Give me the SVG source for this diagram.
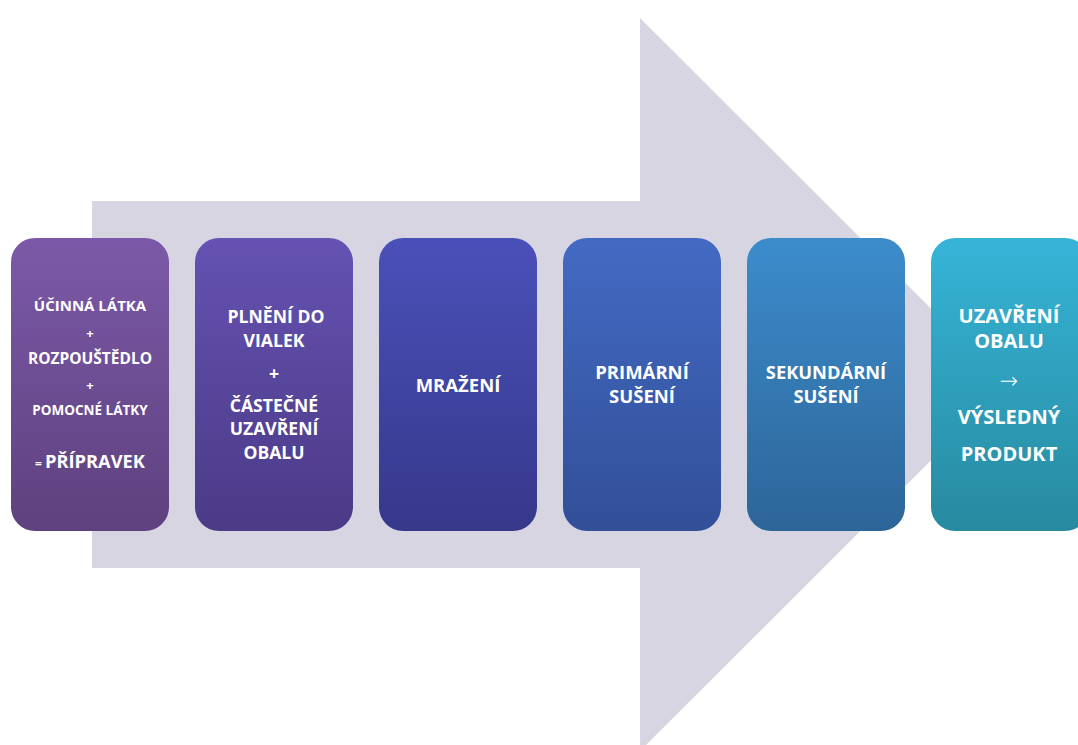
<svg xmlns="http://www.w3.org/2000/svg" width="1078" height="745" viewBox="0 0 1078 745">
<style>
.t{font-family:"Open Sans","Liberation Sans",sans-serif;font-weight:bold;fill:#ffffff;text-anchor:middle}
.thin{font-family:"DejaVu Sans","Liberation Sans",sans-serif;font-weight:200;fill:#ffffff;text-anchor:middle}
</style>
<defs>
<linearGradient id="g1" x1="0" y1="0" x2="0" y2="1"><stop offset="0" stop-color="#7c59a8"/><stop offset="1" stop-color="#5e417e"/></linearGradient>
<linearGradient id="g2" x1="0" y1="0" x2="0" y2="1"><stop offset="0" stop-color="#6552b2"/><stop offset="1" stop-color="#4b3a86"/></linearGradient>
<linearGradient id="g3" x1="0" y1="0" x2="0" y2="1"><stop offset="0" stop-color="#4a50b9"/><stop offset="1" stop-color="#36388a"/></linearGradient>
<linearGradient id="g4" x1="0" y1="0" x2="0" y2="1"><stop offset="0" stop-color="#436ac3"/><stop offset="1" stop-color="#324f98"/></linearGradient>
<linearGradient id="g5" x1="0" y1="0" x2="0" y2="1"><stop offset="0" stop-color="#3c8ccc"/><stop offset="1" stop-color="#2d6598"/></linearGradient>
<linearGradient id="g6" x1="0" y1="0" x2="0" y2="1"><stop offset="0" stop-color="#36b4d7"/><stop offset="1" stop-color="#278a9f"/></linearGradient>
</defs>
<rect width="1078" height="745" fill="#ffffff"/>
<g id="arrow">
<polygon points="92,201 640,201 640,18 1007,384.5 640,751 640,568 92,568" fill="#d8d5e3"/>
</g>
<g id="connectors"></g>
<g id="n1">
<rect x="11" y="238" width="158" height="293" rx="24" fill="url(#g1)"/>
<text class="t" x="90" y="311" font-size="15">ÚČINNÁ LÁTKA</text>
<text class="t" x="90" y="338" font-size="13">+</text>
<text class="t" x="90" y="364" font-size="15.5">ROZPOUŠTĚDLO</text>
<text class="t" x="90" y="390" font-size="13">+</text>
<text class="t" x="90" y="415" font-size="13.5">POMOCNÉ LÁTKY</text>
<text class="t" x="90" y="468"><tspan font-size="12">= </tspan><tspan font-size="18.3">PŘÍPRAVEK</tspan></text>
</g>
<g id="n2">
<rect x="195" y="238" width="158" height="293" rx="24" fill="url(#g2)"/>
<text class="t" x="276" y="323" font-size="17.6">PLNĚNÍ DO</text>
<text class="t" x="274" y="347" font-size="17.6">VIALEK</text>
<text class="t" x="274" y="380" font-size="17.6">+</text>
<text class="t" x="274" y="412" font-size="17.6">ČÁSTEČNÉ</text>
<text class="t" x="274" y="435" font-size="17.6">UZAVŘENÍ</text>
<text class="t" x="274" y="459" font-size="17.6">OBALU</text>
</g>
<g id="n3">
<rect x="379" y="238" width="158" height="293" rx="24" fill="url(#g3)"/>
<text class="t" x="458" y="392" font-size="18.5">MRAŽENÍ</text>
</g>
<g id="n4">
<rect x="563" y="238" width="158" height="293" rx="24" fill="url(#g4)"/>
<text class="t" x="642" y="379" font-size="18.5">PRIMÁRNÍ</text>
<text class="t" x="642" y="403" font-size="18.5">SUŠENÍ</text>
</g>
<g id="n5">
<rect x="747" y="238" width="158" height="293" rx="24" fill="url(#g5)"/>
<text class="t" x="826" y="379" font-size="18.3">SEKUNDÁRNÍ</text>
<text class="t" x="826" y="403" font-size="18.3">SUŠENÍ</text>
</g>
<g id="n6">
<rect x="931" y="238" width="158" height="293" rx="24" fill="url(#g6)"/>
<text class="t" x="1009" y="323" font-size="20">UZAVŘENÍ</text>
<text class="t" x="1009" y="348" font-size="20">OBALU</text>
<text class="thin" x="1009" y="388" font-size="22">→</text>
<text class="t" x="1009" y="424" font-size="20">VÝSLEDNÝ</text>
<text class="t" x="1009" y="461" font-size="20">PRODUKT</text>
</g>
</svg>
